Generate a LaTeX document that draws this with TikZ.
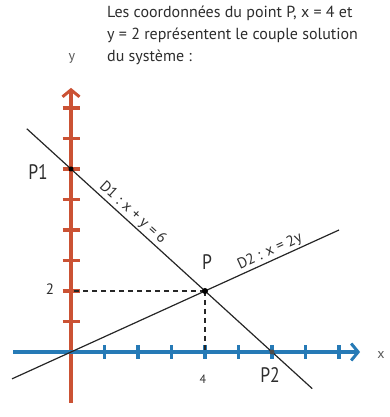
\documentclass[tikz,border=0pt]{standalone}
\usepackage{fontspec}
\setmainfont{PT Sans}
\newfontfamily\condfont[FakeStretch=0.84]{PT Sans}
\newfontfamily\plainfont{PT Sans}
\usetikzlibrary{arrows.meta}
\definecolor{axred}{RGB}{203,82,52}
\definecolor{axblue}{RGB}{38,122,182}
\definecolor{txt}{RGB}{45,45,45}
\begin{document}
\begin{tikzpicture}[x=33.5pt,y=30.5pt,font=\condfont,text=txt,
  axisline/.style={line width=3.6pt},
  tickmark/.style={line width=3.4pt},
  dline/.style={draw=black!85,line width=1.2pt},
  guide/.style={draw=black!85,line width=1.1pt,dash pattern=on 5pt off 4pt},
  ptlabel/.style={font=\condfont\fontsize{21}{21}\selectfont},
  small/.style={font=\condfont\fontsize{13}{13}\selectfont},
  linelab/.style={font=\plainfont\fontsize{15}{15}\selectfont},
  dot/.style={circle,fill=black,inner sep=0pt,minimum size=5pt}]
\useasboundingbox (-71pt,-65pt) rectangle (319pt,352pt);
% axes
\coordinate (O) at (0,0);
\coordinate (ybot) at (0,-1.67);
\coordinate (ytop) at (0,8.66);
\coordinate (xleft) at (-1.73,0);
\coordinate (xright) at (8.63,0);
\draw[axisline,axred,-{Straight Barb[length=7pt,width=17pt,line width=3pt]}] (ybot) -- (ytop);
\foreach \k in {1,...,8} \draw[tickmark,axred] (-8.5pt,\k) -- (8.5pt,\k);
\draw[axisline,axblue,-{Straight Barb[length=7pt,width=17pt,line width=3pt]}] (xleft) -- (xright);
\foreach \k in {1,...,8} \draw[tickmark,axblue] (\k,-7pt) -- (\k,7pt);
% points
\coordinate (P) at (4,2);
\coordinate (P1) at (0,6);
\coordinate (P2) at (6,0);
\coordinate (Py) at (0,2);
\coordinate (Px) at (4,0);
% lines
\coordinate (d1a) at (-1.32,7.32);
\coordinate (d1b) at (7.2,-1.2);
\coordinate (d2a) at (-1.76,-0.88);
\coordinate (d2b) at (8,4);
\draw[guide] (P) -- (Py);
\draw[guide] (P) -- (Px);
\draw[dline] (d1a) -- node[linelab,sloped,above,pos=0.35,inner sep=1.5pt] (d1lab) {D1 : x + y = 6} (d1b);
\draw[dline] (d2a) -- node[linelab,sloped,above,pos=0.8,inner sep=1.5pt] (d2lab) {D2 : x = 2y} (d2b);
\node[dot,minimum size=6pt] (Pdot) at (P) {};
\node[dot] (P1dot) at (P1) {};
\node[dot,fill=black!70] (P2dot) at (P2) {};
% labels
\node[ptlabel] (Plab) at (136pt,90pt) {P};
\node[ptlabel] (P1lab) at (-33pt,180pt) {P1};
\node[ptlabel] (P2lab) at (199pt,-23pt) {P2};
\node[font=\plainfont\fontsize{15}{15}\selectfont] (lab2) at (-21pt,63pt) {2};
\node[font=\plainfont\fontsize{12}{12}\selectfont] (lab4) at (132pt,-27pt) {4};
\node[font=\plainfont\fontsize{14}{14}\selectfont,text=black!65] (ylab) at (1pt,294pt) {y};
\node[font=\plainfont\fontsize{14}{14}\selectfont,text=black!65] (xlab) at (310pt,-3pt) {x};
\node[anchor=north west,align=left,inner sep=0pt,font=\plainfont\fontsize{16}{22}\selectfont] (caption) at (36pt,346pt)
  {Les coordonnées du point P, x = 4 et\\y = 2 représentent le couple solution\\du système :};
\end{tikzpicture}
\end{document}
